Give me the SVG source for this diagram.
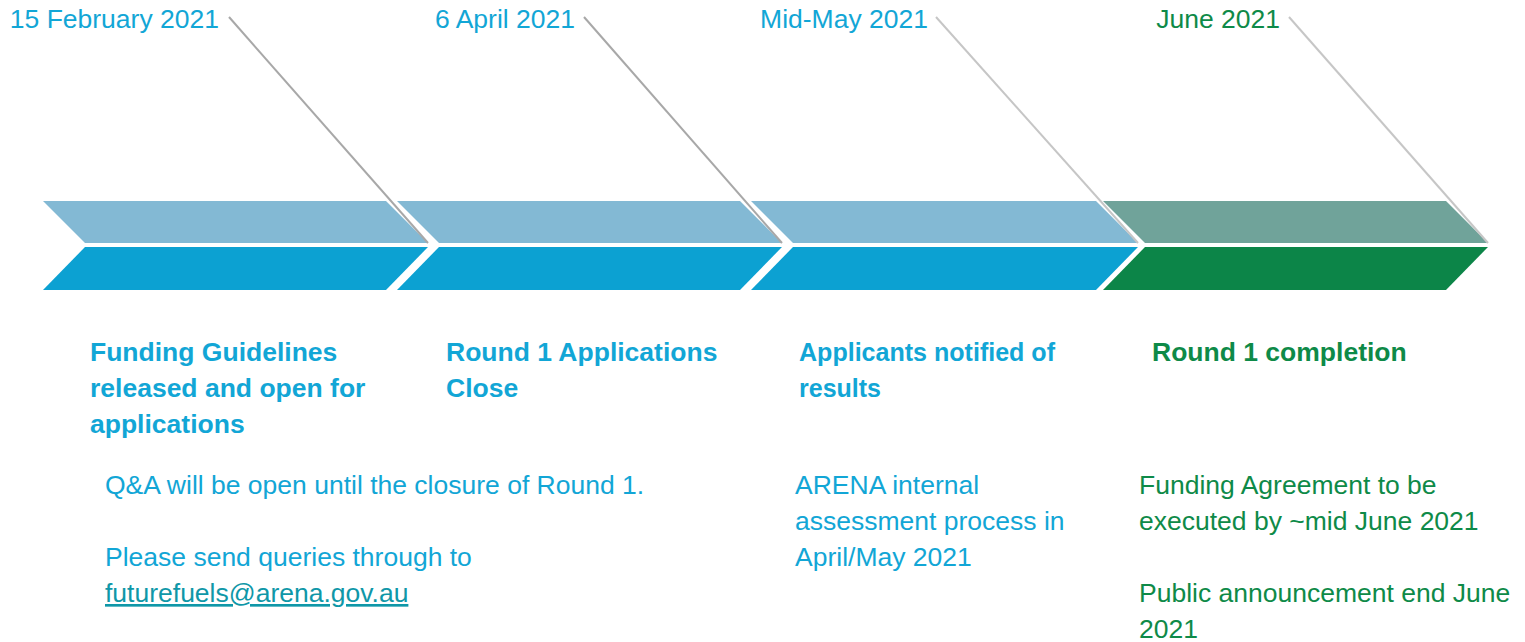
<svg xmlns="http://www.w3.org/2000/svg" width="1525" height="642" viewBox="0 0 1525 642">
<style>
text{font-family:"Liberation Sans",Arial,sans-serif;font-size:26.5px}
.b{fill:#12A6D6}
.g{fill:#0E8A48}
.h{font-weight:bold}
.lt{fill:#83B9D4}
.dk{fill:#0CA1D2}
.glt{fill:#70A39A}
.gdk{fill:#0C8548}
.lead{stroke:#A8A8A8;stroke-width:2;fill:none}
.lead2{stroke:#C6C6C6;stroke-width:2;fill:none}
.link{fill:#0F97A8}
</style>
<g id="chevron1">
<polygon class="lt" points="43,201 386,201 428,243 85,243"/>
<polygon class="dk" points="85,247 428,247 386,290 43,290"/>
</g>
<g id="chevron2">
<polygon class="lt" points="397,201 740,201 782,243 439,243"/>
<polygon class="dk" points="439,247 782,247 740,290 397,290"/>
</g>
<g id="chevron3">
<polygon class="lt" points="751,201 1096,201 1138,243 793,243"/>
<polygon class="dk" points="793,247 1138,247 1096,290 751,290"/>
</g>
<g id="chevron4">
<polygon class="glt" points="1103,201 1446,201 1488,243 1145,243"/>
<polygon class="gdk" points="1145,247 1488,247 1446,290 1103,290"/>
</g>
<g id="connectors">
<line class="lead" x1="229" y1="17" x2="428" y2="243"/>
<line class="lead" x1="584" y1="17" x2="782" y2="243"/>
<line class="lead2" x1="936" y1="17" x2="1138" y2="243"/>
<line class="lead2" x1="1289" y1="17" x2="1488" y2="243"/>
</g>
<g id="milestone1">
<text class="b" x="219" y="28" text-anchor="end">15 February 2021</text>
<text class="b h" x="90" y="361">Funding Guidelines</text>
<text class="b h" x="90" y="397">released and open for</text>
<text class="b h" x="90" y="433">applications</text>
<text class="b" x="105" y="494">Q&amp;A will be open until the closure of Round 1.</text>
<text class="b" x="105" y="566">Please send queries through to</text>
<text class="link" x="105" y="602" text-decoration="underline">futurefuels@arena.gov.au</text>
</g>
<g id="milestone2">
<text class="b" x="575" y="28" text-anchor="end">6 April 2021</text>
<text class="b h" x="446" y="361">Round 1 Applications</text>
<text class="b h" x="446" y="397">Close</text>
</g>
<g id="milestone3">
<text class="b" x="928" y="28" text-anchor="end">Mid-May 2021</text>
<text class="b h" x="799" y="361" textLength="256" lengthAdjust="spacingAndGlyphs">Applicants notified of</text>
<text class="b h" x="799" y="397" textLength="82" lengthAdjust="spacingAndGlyphs">results</text>
<text class="b" x="795" y="494">ARENA internal</text>
<text class="b" x="795" y="530">assessment process in</text>
<text class="b" x="795" y="566">April/May 2021</text>
</g>
<g id="milestone4">
<text class="g" x="1280" y="28" text-anchor="end">June 2021</text>
<text class="g h" x="1152" y="361">Round 1 completion</text>
<text class="g" x="1139" y="494">Funding Agreement to be</text>
<text class="g" x="1139" y="530">executed by ~mid June 2021</text>
<text class="g" x="1139" y="602">Public announcement end June</text>
<text class="g" x="1139" y="638">2021</text>
</g>
</svg>
